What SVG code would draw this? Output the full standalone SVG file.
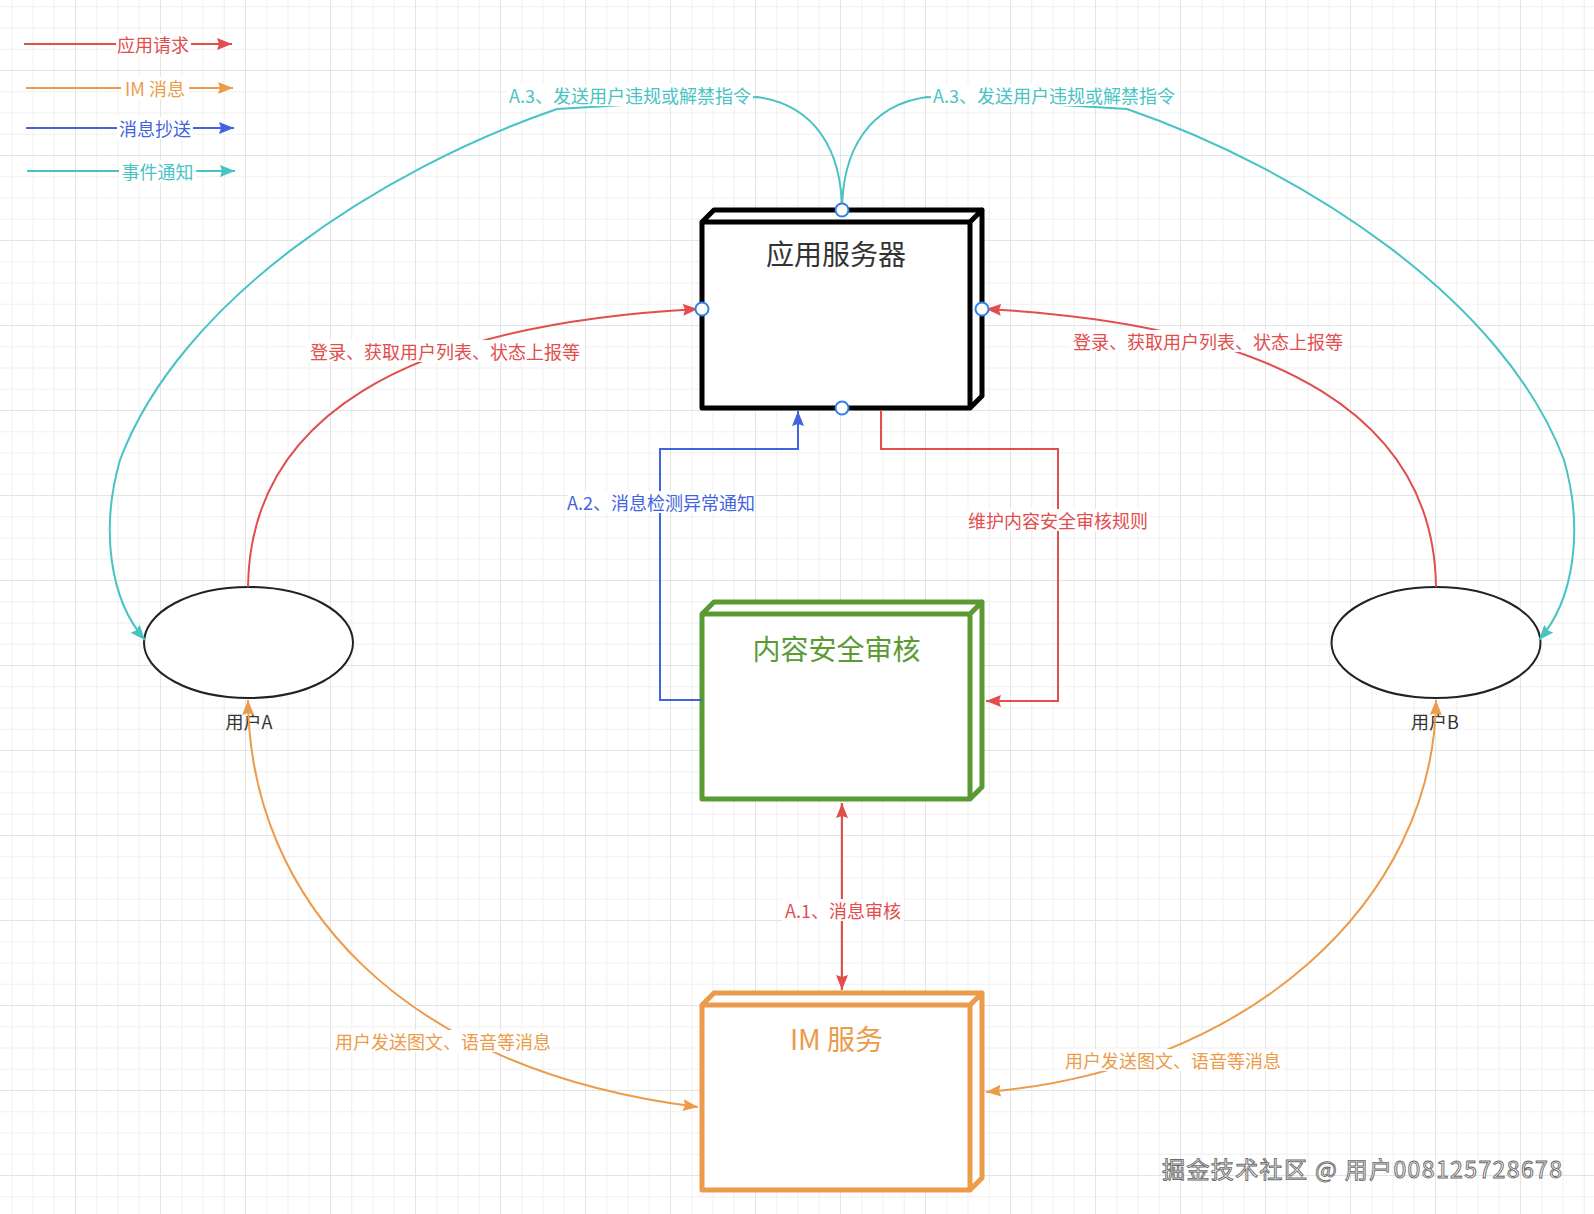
<svg xmlns="http://www.w3.org/2000/svg" width="1594" height="1214" viewBox="0 0 1594 1214">
<style>
text{font-family:"Noto Sans CJK SC","Noto Sans",sans-serif;dominant-baseline:central;text-anchor:middle}
.lbl{font-size:18px}
.red{stroke:#e24d4d}.orange{stroke:#ec9b4a}.blue{stroke:#4263e0}.teal{stroke:#48c3c3}
.edge{fill:none;stroke-width:2}
.tred{fill:#e24d4d}.torange{fill:#ec9b4a}.tblue{fill:#4263e0}.tteal{fill:#48c3c3}
.bg{fill:#fff}
.cube{fill:#fff;stroke-linejoin:round;stroke-linecap:round}
.pt{fill:#fff;stroke:#2f7fe6;stroke-width:2}
</style>
<defs>
<pattern id="grid" x="75" y="70" width="85" height="85" patternUnits="userSpaceOnUse">
<rect width="85" height="85" fill="#fff"/>
<rect x="21.25" width="1" height="85" fill="#f0f0f0"/>
<rect x="42.5" width="1" height="85" fill="#f0f0f0"/>
<rect x="63.75" width="1" height="85" fill="#f0f0f0"/>
<rect y="21.25" width="85" height="1" fill="#f0f0f0"/>
<rect y="42.5" width="85" height="1" fill="#f0f0f0"/>
<rect y="63.75" width="85" height="1" fill="#f0f0f0"/>
<rect x="0" width="1" height="85" fill="#e4e4e4"/>
<rect y="0" width="85" height="1" fill="#e4e4e4"/>
</pattern>
<marker id="aRed" markerUnits="userSpaceOnUse" markerWidth="16" markerHeight="13" refX="15" refY="6" orient="auto-start-reverse"><path d="M0,0 L15,6 L0,12 L2,6 Z" fill="#e24d4d"/></marker>
<marker id="aOrange" markerUnits="userSpaceOnUse" markerWidth="16" markerHeight="13" refX="15" refY="6" orient="auto-start-reverse"><path d="M0,0 L15,6 L0,12 L2,6 Z" fill="#ec9b4a"/></marker>
<marker id="aBlue" markerUnits="userSpaceOnUse" markerWidth="16" markerHeight="13" refX="15" refY="6" orient="auto-start-reverse"><path d="M0,0 L15,6 L0,12 L2,6 Z" fill="#4263e0"/></marker>
<marker id="aTeal" markerUnits="userSpaceOnUse" markerWidth="16" markerHeight="13" refX="15" refY="6" orient="auto-start-reverse"><path d="M0,0 L15,6 L0,12 L2,6 Z" fill="#48c3c3"/></marker>
</defs>
<rect width="1594" height="1214" fill="url(#grid)"/>

<g id="legend">
<path class="edge red" d="M24,44 H232" marker-end="url(#aRed)"/>
<rect class="bg" x="116" y="33" width="75" height="22"/>
<text class="lbl tred" x="153" y="44">应用请求</text>
<path class="edge orange" d="M26,88 H233" marker-end="url(#aOrange)"/>
<rect class="bg" x="121" y="77" width="68" height="22"/>
<text class="lbl torange" x="155" y="88">IM 消息</text>
<path class="edge blue" d="M26,128 H234" marker-end="url(#aBlue)"/>
<rect class="bg" x="117" y="117" width="76" height="22"/>
<text class="lbl tblue" x="155" y="128">消息抄送</text>
<path class="edge teal" d="M27,171 H235" marker-end="url(#aTeal)"/>
<rect class="bg" x="119" y="160" width="77" height="22"/>
<text class="lbl tteal" x="157.5" y="171">事件通知</text>
</g>

<g id="node-app-server">
<path class="cube" stroke="#000" stroke-width="5" d="M702,222 L714,210 L982,210 L982,396 L970,408 L702,408 Z M702,222 H970 V408 M970,222 L982,210"/>
<text x="836" y="253" font-size="28" fill="#333">应用服务器</text>
</g>

<g id="node-content-audit">
<path class="cube" stroke="#5a9a33" stroke-width="5" d="M702,614 L714,602 L982,602 L982,787 L970,799 L702,799 Z M702,614 H970 V799 M970,614 L982,602"/>
<text x="836.5" y="648" font-size="28" fill="#5a9a33">内容安全审核</text>
</g>

<g id="node-im">
<path class="cube" stroke="#ec9b4a" stroke-width="5" d="M702,1005 L714,993 L982,993 L982,1178 L970,1190 L702,1190 Z M702,1005 H970 V1190 M970,1005 L982,993"/>
<text x="836.5" y="1038" font-size="28" fill="#ec9b4a">IM 服务</text>
</g>

<g id="node-user-a">
<ellipse cx="248.5" cy="642.5" rx="104.5" ry="55.5" fill="#fff" stroke="#222" stroke-width="2"/>
<text x="249" y="721" font-size="18" fill="#333">用户A</text>
</g>

<g id="node-user-b">
<ellipse cx="1436" cy="642.5" rx="104.5" ry="55.5" fill="#fff" stroke="#222" stroke-width="2"/>
<text x="1435" y="721" font-size="18" fill="#333">用户B</text>
</g>

<g id="connectors">
<g id="e-teal-left">
<path class="edge teal" d="M842,212 C842,150 815,105 757,97 L557,109 C380,170 180,300 120,460 C100,530 110,600 145,640" marker-end="url(#aTeal)"/>
<rect class="bg" x="507" y="84" width="246" height="22"/>
<text class="lbl tteal" x="630" y="95">A.3、发送用户违规或解禁指令</text>
</g>
<g id="e-teal-right">
<path class="edge teal" d="M842,212 C842,150 869,105 927,97 L1127,109 C1304,170 1504,300 1564,460 C1584,530 1574,600 1539,640" marker-end="url(#aTeal)"/>
<rect class="bg" x="931" y="84" width="246" height="22"/>
<text class="lbl tteal" x="1054" y="95">A.3、发送用户违规或解禁指令</text>
</g>
<g id="e-red-left">
<path class="edge red" d="M248,587 C250,420 400,325 698,309" marker-end="url(#aRed)"/>
<rect class="bg" x="307" y="340" width="276" height="22"/>
<text class="lbl tred" x="445" y="351">登录、获取用户列表、状态上报等</text>
</g>
<g id="e-red-right">
<path class="edge red" d="M1436,587 C1434,420 1284,325 986,309" marker-end="url(#aRed)"/>
<rect class="bg" x="1070" y="330" width="276" height="22"/>
<text class="lbl tred" x="1208" y="341">登录、获取用户列表、状态上报等</text>
</g>
<g id="e-blue">
<path class="edge blue" d="M702,700 H660 V449 H798 V411" marker-end="url(#aBlue)"/>
<rect class="bg" x="568" y="491" width="186" height="22"/>
<text class="lbl tblue" x="661" y="502">A.2、消息检测异常通知</text>
</g>
<g id="e-red-rules">
<path class="edge red" d="M881,410 V449 H1058 V701 H986" marker-end="url(#aRed)"/>
<rect class="bg" x="967" y="509" width="182" height="22"/>
<text class="lbl tred" x="1058" y="520">维护内容安全审核规则</text>
</g>
<g id="e-red-a1">
<path class="edge red" d="M842,803 V990" marker-start="url(#aRed)" marker-end="url(#aRed)"/>
<rect class="bg" x="782" y="899" width="122" height="22"/>
<text class="lbl tred" x="843" y="910">A.1、消息审核</text>
</g>
<g id="e-orange-left">
<path class="edge orange" d="M248,700 C250,900 400,1070 698,1107" marker-start="url(#aOrange)" marker-end="url(#aOrange)"/>
<rect class="bg" x="333" y="1030" width="220" height="22"/>
<text class="lbl torange" x="443" y="1041">用户发送图文、语音等消息</text>
</g>
<g id="e-orange-right">
<path class="edge orange" d="M1436,700 C1434,900 1250,1070 986,1092" marker-start="url(#aOrange)" marker-end="url(#aOrange)"/>
<rect class="bg" x="1063" y="1049" width="220" height="22"/>
<text class="lbl torange" x="1173" y="1060">用户发送图文、语音等消息</text>
</g>
</g>

<g id="connection-points">
<circle class="pt" cx="842" cy="210" r="6.5"/>
<circle class="pt" cx="702" cy="309" r="6.5"/>
<circle class="pt" cx="982" cy="309" r="6.5"/>
<circle class="pt" cx="842" cy="408" r="6.5"/>
</g>

<g id="watermark">
<text x="1362" y="1168" font-size="23" fill="#f7f7f7" stroke="#6a6a6a" stroke-width="0.9" textLength="400" lengthAdjust="spacing">掘金技术社区 @ 用户008125728678</text>
</g>
</svg>
